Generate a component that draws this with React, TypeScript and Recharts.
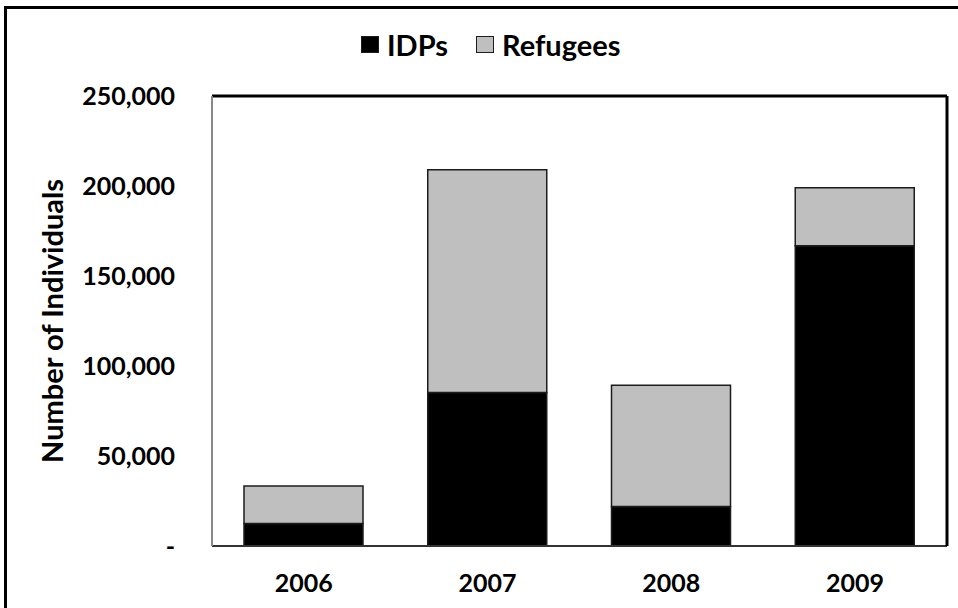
import {
  Bar,
  BarChart,
  Label,
  Legend,
  XAxis,
  YAxis,
} from "recharts";

const years = ["2006", "2007", "2008", "2009"];
const idps = [12500, 85300, 21900, 166800];
const refugees = [20900, 123700, 67400, 32200];
const yTicks = [0, 50000, 100000, 150000, 200000, 250000];

const data = years.map((year, i) => ({
  year,
  IDPs: idps[i],
  Refugees: refugees[i],
}));

const FONT = "Lato, 'Open Sans', sans-serif";
const GREY = "#bfbfbf";
const EDGE = "#1c1c1c";

const fmtTick = (v: number) => (v === 0 ? "-" : v.toLocaleString("en-US"));

function YTick({ x, y, payload }: any) {
  return (
    <text
      x={x}
      y={y}
      dy="0.35em"
      textAnchor="end"
      fontFamily={FONT}
      fontWeight={700}
      fontSize={25}
      fill="#000"
    >
      {fmtTick(payload.value)}
    </text>
  );
}

function XTick({ x, y, payload }: any) {
  return (
    <text
      x={x}
      y={y}
      dy="0.35em"
      textAnchor="middle"
      fontFamily={FONT}
      fontWeight={700}
      fontSize={25}
      fill="#000"
    >
      {payload.value}
    </text>
  );
}

function AxisTitle({ viewBox }: any) {
  const cx = viewBox.x + 51;
  const cy = viewBox.y + viewBox.height / 2;
  return (
    <text
      x={cx}
      y={cy}
      transform={`rotate(-90 ${cx} ${cy})`}
      textAnchor="middle"
      dominantBaseline="central"
      fontFamily={FONT}
      fontWeight={700}
      fontSize={29}
      fill="#000"
    >
      Number of Individuals
    </text>
  );
}

function LegendRow({ payload }: any) {
  return (
    <div style={{ display: "flex", alignItems: "center", fontFamily: FONT }}>
      {(payload || []).map((p: any, i: number) => (
        <div
          key={p.value}
          style={{ display: "flex", alignItems: "center", marginLeft: i ? 28 : 0 }}
        >
          <span
            style={{
              display: "inline-block",
              width: 18,
              height: 17,
              boxSizing: "border-box",
              background: p.color,
              border: `1.5px solid ${EDGE}`,
              marginRight: 8,
            }}
          />
          <span style={{ fontSize: 29, fontWeight: 700, color: "#000", lineHeight: 1 }}>
            {p.value}
          </span>
        </div>
      ))}
    </div>
  );
}

export default function App() {
  return (
    <div
      style={{
        position: "absolute",
        left: 0,
        top: 0,
        width: 958,
        height: 608,
        background: "#fff",
        overflow: "hidden",
      }}
    >
      {/* frame around the figure */}
      <div style={{ position: "absolute", left: 4, top: 6, width: 954, height: 3, background: "#000" }} />
      <div style={{ position: "absolute", left: 4, top: 6, width: 3, height: 602, background: "#000" }} />
      <BarChart
        width={958}
        height={608}
        data={data}
        margin={{ top: 95, right: 10, bottom: 0, left: 0 }}
      >
        <XAxis
          dataKey="year"
          axisLine={{ stroke: "#333", strokeWidth: 2 }}
          tickLine={false}
          tickSize={0}
          tickMargin={37}
          tick={<XTick />}
          height={62}
        />
        <XAxis
          xAxisId="top"
          orientation="top"
          dataKey="year"
          axisLine={{ stroke: "#000", strokeWidth: 3 }}
          tick={false}
          tickLine={false}
          height={1}
        />
        <YAxis
          domain={[0, 250000]}
          ticks={yTicks}
          interval={0}
          width={212}
          axisLine={{ stroke: "#888", strokeWidth: 2 }}
          tickLine={false}
          tickSize={0}
          tickMargin={37}
          tick={<YTick />}
        >
          <Label content={<AxisTitle />} />
        </YAxis>
        <YAxis
          yAxisId="right"
          orientation="right"
          domain={[0, 250000]}
          width={1}
          axisLine={{ stroke: "#000", strokeWidth: 3 }}
          tick={false}
          tickLine={false}
        />
        <Legend
          verticalAlign="middle"
          align="center"
          layout="horizontal"
          content={<LegendRow />}
          wrapperStyle={{ top: 30, left: 361, width: "auto" }}
        />
        <Bar
          dataKey="IDPs"
          stackId="a"
          fill="#000"
          stroke={EDGE}
          strokeWidth={1.5}
          barSize={119}
          isAnimationActive={false}
        />
        <Bar
          dataKey="Refugees"
          stackId="a"
          fill={GREY}
          stroke={EDGE}
          strokeWidth={1.5}
          barSize={119}
          isAnimationActive={false}
        />
      </BarChart>
    </div>
  );
}
